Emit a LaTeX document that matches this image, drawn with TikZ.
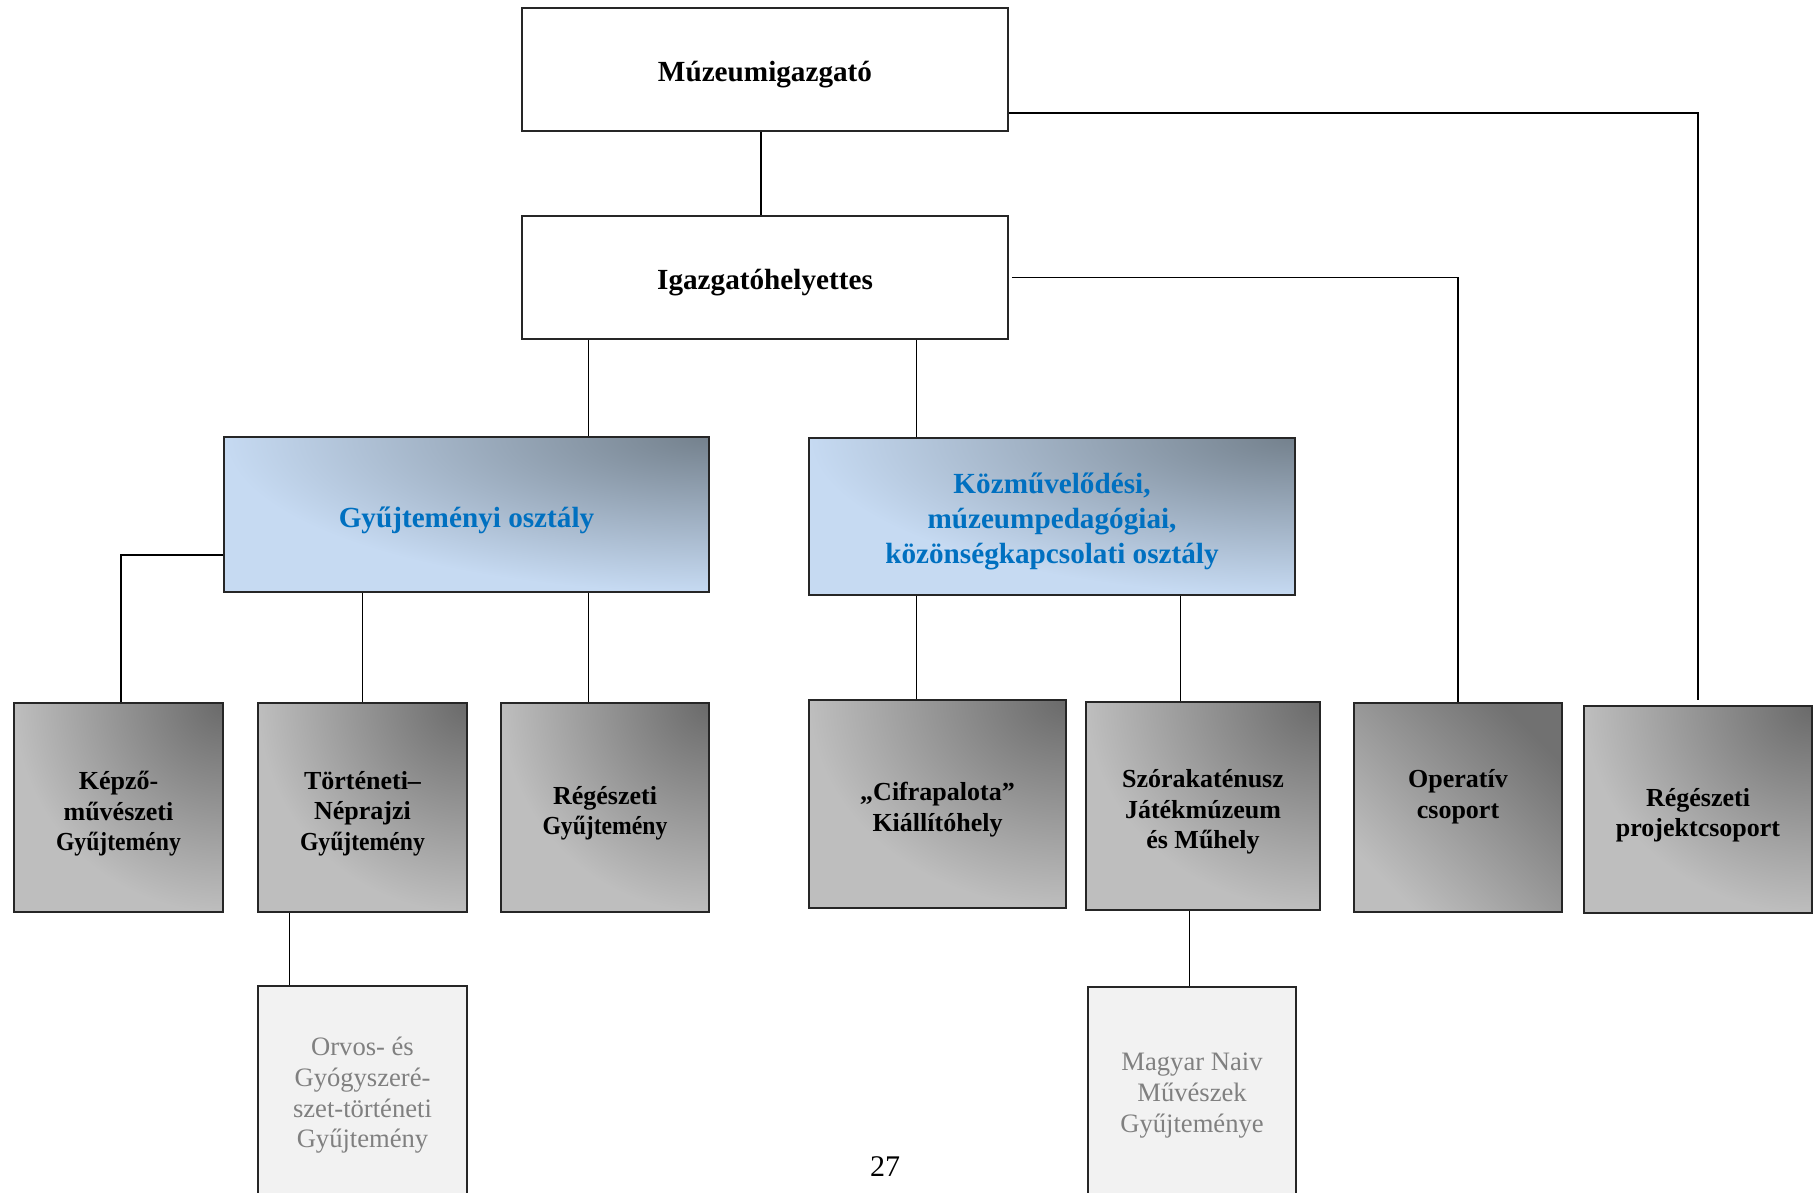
\documentclass[tikz,border=0pt]{standalone}
\usepackage{fontspec}
\usepackage{graphicx}
\setmainfont{Liberation Serif}
\usetikzlibrary{calc}
\definecolor{blueL}{HTML}{C6DAF2}
\definecolor{blueD}{HTML}{74818D}
\definecolor{grayL}{HTML}{BEBEBE}
\definecolor{grayD}{HTML}{6A6A6A}
\definecolor{lightF}{HTML}{F2F2F2}
\definecolor{txtblue}{HTML}{0070C0}
\definecolor{txtgray}{HTML}{808080}
\newcommand{\gyt}{\scalebox{0.91}[1]{Gyűjtemény}}
\begin{document}
\begin{tikzpicture}[x=0.5pt,y=-0.5pt,
  box/.style={rectangle, draw=black!85, line width=0.75pt, inner sep=0pt},
  cornershade/.style 2 args={fill=#2, path picture={\shade[inner color=#1,outer color=#2]
      let \p1=(path picture bounding box.south west), \p2=(path picture bounding box.north east)
      in (\p2) ellipse [x radius={\x2-\x1}, y radius={\y2-\y1}];}},
  plainbox/.style={box, fill=white},
  bluebox/.style={box, cornershade={blueD}{blueL}},
  graybox/.style={box, cornershade={grayD}{grayL}},
  lightbox/.style={box, fill=lightF},
  toptxt/.style={inner sep=0pt, align=center, font=\bfseries\fontsize{14.6}{17.4}\selectfont},
  bluetxt/.style={toptxt, text=txtblue},
  graytxt/.style={inner sep=0pt, align=center, font=\bfseries\fontsize{13}{15.4}\selectfont},
  lighttxt/.style={inner sep=0pt, align=center, text=txtgray, font=\fontsize{13.3}{15.4}\selectfont},
  conn/.style={draw=black, line width=0.65pt}
]
\useasboundingbox (0,0) rectangle (1814,1193);
% boxes
\node[plainbox, minimum width=243pt, minimum height=61.5pt] (mg) at (765,69.5) {};
\node[plainbox, minimum width=243pt, minimum height=61.5pt] (ih) at (765,277.5) {};
\node[bluebox, minimum width=242.5pt, minimum height=77.5pt] (go) at (466.5,514.5) {};
\node[bluebox, minimum width=243pt, minimum height=78.5pt] (kk) at (1052,516.5) {};
\node[graybox, minimum width=104.5pt, minimum height=104.5pt] (kp) at (118.5,807.5) {};
\node[graybox, minimum width=104.5pt, minimum height=104.5pt] (tn) at (362.5,807.5) {};
\node[graybox, minimum width=104pt, minimum height=104.5pt] (rg) at (605,807.5) {};
\node[graybox, minimum width=128.5pt, minimum height=104pt] (cf) at (937.5,804) {};
\node[graybox, minimum width=117pt, minimum height=104pt] (sz) at (1203,806) {};
\node[box, shade, top color=grayD!95, bottom color=grayL, shading angle=-45,
      minimum width=104pt, minimum height=104.5pt] (op) at (1458,807.5) {};
\node[graybox, minimum width=114pt, minimum height=103.5pt] (rp) at (1698,809.5) {};
\node[lightbox, minimum width=104.5pt, minimum height=104.5pt] (ov) at (362.5,1090.5) {};
\node[lightbox, minimum width=104pt, minimum height=104.5pt] (mn) at (1192,1091.5) {};
% texts
\node[toptxt] (t-mg) at ([yshift=-2.4pt]mg.center) {Múzeumigazgató};
\node[toptxt] (t-ih) at ([yshift=-2.4pt]ih.center) {Igazgatóhelyettes};
\node[bluetxt] (t-go) at ([yshift=-2.9pt]go.center) {Gyűjteményi osztály};
\node[bluetxt] (t-kk) at ([yshift=-2.6pt]kk.center) {Közművelődési,\\múzeumpedagógiai,\\közönségkapcsolati osztály};
\node[graytxt] (t-kp) at ([yshift=-3.1pt]kp.center) {Képző-\\művészeti\\\gyt};
\node[graytxt] (t-tn) at ([yshift=-3.1pt]tn.center) {Történeti–\\Néprajzi\\\gyt};
\node[graytxt] (t-rg) at ([yshift=-2.9pt]rg.center) {Régészeti\\\gyt};
\node[graytxt] (t-cf) at ([yshift=-2.9pt]cf.center) {„Cifrapalota”\\Kiállítóhely};
\node[graytxt] (t-sz) at ([yshift=-2.9pt]sz.center) {Szórakaténusz\\Játékmúzeum\\és Műhely};
\node[graytxt] (t-op) at ([yshift=5.5pt]op.center) {Operatív\\csoport};
\node[graytxt] (t-rp) at ([yshift=-2.9pt]rp.center) {Régészeti\\projektcsoport};
\node[lighttxt] (t-ov) at ([yshift=-2.4pt]ov.center) {Orvos- és\\Gyógyszeré-\\szet-történeti\\Gyűjtemény};
\node[lighttxt] (t-mn) at ([yshift=-2pt]mn.center) {Magyar Naiv\\Művészek\\Gyűjteménye};
% page number
\node[font=\fontsize{15}{18}\selectfont] (pg) at (885,1167) {27};
% helper coordinates
\coordinate (c1) at ([xshift=-2pt]mg.south);
\coordinate (c4) at ([xshift=33.5pt]ih.south west);
\coordinate (c5) at ([xshift=197.5pt]ih.south west);
\coordinate (c8) at ([xshift=44pt]rg.north west);
\coordinate (c9) at ([xshift=54pt]cf.north west);
\coordinate (c10) at ([xshift=47.5pt]sz.north west);
\coordinate (c11) at ([xshift=16pt]ov.north west);
\coordinate (c12) at ([xshift=51pt]mn.north west);
% connectors
\draw[conn] (c1) -- (c1 |- ih.north);
\draw[conn] ([yshift=-21.75pt]mg.east) -| ([yshift=2.5pt]rp.north);
\draw[conn] ([xshift=1.5pt]ih.east) -| (op.north);
\draw[conn] (c4) -- (c4 |- go.north);
\draw[conn] (c5 |- ih.south) -- (c5 |- kk.north);
\draw[conn] ([yshift=-20.25pt]go.west) -| ([xshift=1.25pt]kp.north);
\draw[conn] (tn.north |- go.south) -- (tn.north);
\draw[conn] (c8 |- go.south) -- (c8);
\draw[conn] (c9 |- kk.south) -- (c9);
\draw[conn] (c10 |- kk.south) -- (c10);
\draw[conn] (c11 |- tn.south) -- (c11);
\draw[conn] (c12 |- sz.south) -- (c12);
\end{tikzpicture}
\end{document}
